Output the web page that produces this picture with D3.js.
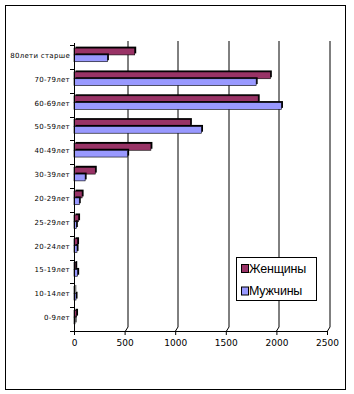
<!DOCTYPE html>
<html>
<head>
<meta charset="utf-8">
<script src="https://cdn.jsdelivr.net/npm/d3@7"></script>
<style>
  body { margin: 0; background: #fff; }
  svg { display: block; }
</style>
</head>
<body>
<svg width="354" height="394"></svg>
<script>
// Age groups top to bottom, as in the chart
const groups = ["80лети старше", "70-79лет", "60-69лет", "50-59лет", "40-49лет", "30-39лет",
    "20-29лет", "25-29лет", "20-24лет", "15-19лет", "10-14лет", "0-9лет"];
const women = [600, 1940, 1820, 1150, 760, 210, 80, 45, 35, 17, 7, 25];
const men = [330, 1800, 2050, 1260, 530, 110, 52, 23, 30, 36, 20, 10];
const seriesNames = ["Женщины", "Мужчины"];
const xTicks = [0, 500, 1000, 1500, 2000, 2500];

const svg = d3.select("svg");
const colors = ["#993366", "#9999FF"];

// outer frame
svg.append("rect")
    .attr("x", 5.5).attr("y", 5.5)
    .attr("width", 340).attr("height", 384)
    .attr("fill", "none").attr("stroke", "#000");

const x = d3.scaleLinear().domain([0, 2500]).range([74, 327]);
const y = d3.scaleBand().domain(groups).range([45, 331]);

const depthX = 2.5, depthY = -4;

// gridlines on the back wall
xTicks.slice(1).forEach(v => {
    const gx = Math.round(x(v)) + 0.5;
    svg.append("path")
        .attr("d", `M${gx},331 L${gx + depthX},${331 + depthY} L${gx + depthX},41`)
        .attr("fill", "none").attr("stroke", "#000");
});

// bars: women above, men below, with dark depth
const barH = 6.8;
const rows = [women, men];
rows.forEach((vals, s) => {
    const g = svg.append("g");
    groups.forEach((grp, i) => {
        const top = y(grp) + y.bandwidth() / 2 - 2 - barH + s * barH;
        const w = x(vals[i]) - x(0);
        // depth shadow
        g.append("rect")
            .attr("x", x(0) + 1.5).attr("y", top - 1.5)
            .attr("width", w).attr("height", barH)
            .attr("fill", "#000");
        g.append("rect")
            .attr("x", x(0)).attr("y", top)
            .attr("width", w).attr("height", barH)
            .attr("fill", colors[s])
            .attr("stroke", "#000").attr("stroke-width", 0.6);
    });
});

// y axis
const yAxis = svg.append("g");
yAxis.append("line")
    .attr("x1", 74.5).attr("x2", 74.5).attr("y1", 43).attr("y2", 331)
    .attr("stroke", "#000");
groups.concat(["end"]).forEach((grp, i) => {
    const ty = Math.round(45 + i * y.step()) + 0.5;
    yAxis.append("line")
        .attr("x1", 70).attr("x2", 74.5).attr("y1", ty).attr("y2", ty)
        .attr("stroke", "#000");
});
yAxis.selectAll("text")
    .data(groups)
    .enter().append("text")
    .attr("x", 70)
    .attr("y", d => y(d) + y.bandwidth() / 2 + 1)
    .attr("text-anchor", "end")
    .attr("font-family", "DejaVu Sans, sans-serif")
    .attr("font-size", "7px")
    .attr("letter-spacing", "0.3px")
    .text(d => d);

// x axis
svg.append("g")
    .attr("transform", "translate(0,331)")
    .call(d3.axisBottom(x).tickValues(xTicks).tickSize(4).tickPadding(5).tickFormat(d3.format("d")))
    .call(g => g.selectAll("text").attr("font-family", "DejaVu Sans, sans-serif").attr("font-size", "9px").attr("fill", "#000"))
    .call(g => g.selectAll("line, path").attr("stroke", "#000"));

// legend
const legend = svg.append("g");
legend.append("rect")
    .attr("x", 236.5).attr("y", 257.5)
    .attr("width", 80).attr("height", 43)
    .attr("fill", "#fff").attr("stroke", "#000");
seriesNames.forEach((name, i) => {
    const ly = 264.5 + i * 22.5;
    legend.append("rect")
        .attr("x", 241.5).attr("y", ly)
        .attr("width", 7).attr("height", 8)
        .attr("fill", colors[i]).attr("stroke", "#000");
    legend.append("text")
        .attr("x", 249)
        .attr("y", ly + 8)
        .attr("font-family", "Liberation Sans, Arial, sans-serif")
        .attr("font-size", "12.5px")
        .attr("letter-spacing", "-0.2px")
        .text(name);
});
</script>
</body>
</html>
